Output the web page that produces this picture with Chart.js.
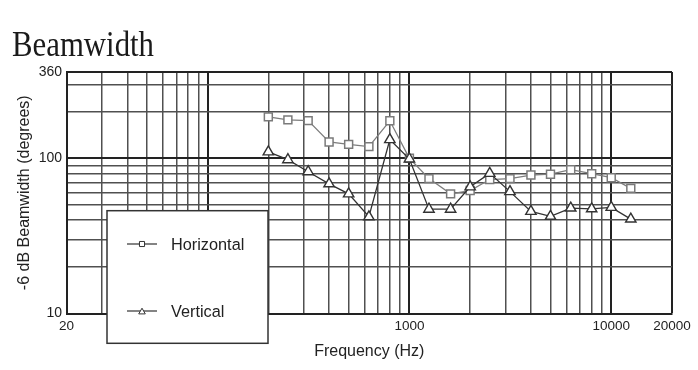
<!DOCTYPE html>
<html>
<head>
<meta charset="utf-8">
<script src="https://cdn.jsdelivr.net/npm/chart.js@4/dist/chart.umd.min.js"></script>
<style>
  html, body { margin: 0; padding: 0; background: #fff; }
  #wrap { position: relative; width: 698px; height: 370px; }
  #c { position: absolute; left: 0; top: 0; }
  #title {
    position: absolute; left: 12px; top: 27px;
    font-family: 'Liberation Serif', 'Times New Roman', serif;
    font-size: 35px; line-height: 1; color: #1a1a1a;
    transform: scaleX(0.88); transform-origin: 0 0; white-space: nowrap;
  }
</style>
</head>
<body>
<div id="wrap">
  <canvas id="c" width="698" height="370"></canvas>
  <div id="title">Beamwidth</div>
</div>
<script>
// ---- data ----
const frequencies = [200, 250, 315, 400, 500, 630, 800, 1000, 1250, 1600, 2000, 2500, 3150, 4000, 5000, 6300, 8000, 10000, 12500];
const horizontal  = [185, 177, 175, 127.5, 123, 119, 174.5, 100, 74, 59, 62, 73, 74, 78, 79, 84.5, 79.6, 75, 64];
const vertical    = [110, 98, 82, 68.5, 59, 42, 132, 99, 47, 47, 65.5, 80, 61, 45.5, 42.3, 47.8, 47.3, 48.3, 40.6];
const seriesNames = ['Horizontal', 'Vertical'];

const xGridValues = [20, 30, 40, 50, 60, 70, 80, 90, 100, 200, 300, 400, 500, 600, 700, 800, 900,
                     1000, 2000, 3000, 4000, 5000, 6000, 7000, 8000, 9000, 10000, 20000];
const xTickLabels = [20, 1000, 10000, 20000];
const xMajor      = [100, 1000, 10000, 20000];
const yGridValues = [10, 20, 30, 40, 50, 60, 70, 80, 90, 100, 200, 300, 360];
const yTickLabels = [10, 100, 360];
const yMajor      = [100, 360];

const xTitle = 'Frequency (Hz)';
const yTitle = '-6 dB Beamwidth (degrees)';

Chart.defaults.font.family = "'Liberation Sans', Arial, Helvetica, sans-serif";
Chart.defaults.color = '#222';

const toPoints = (vals) => frequencies.map((f, i) => ({ x: f, y: vals[i] }));

const boxLegend = {
  id: 'boxLegend',
  afterDraw(chart) {
    const ctx = chart.ctx;
    const a = chart.chartArea;
    const bx = a.left + 40.5, by = a.top + 138.7, bw = 161, bh = 132.6;
    ctx.save();
    ctx.fillStyle = '#fff';
    ctx.fillRect(bx, by, bw, bh);
    ctx.strokeStyle = '#333';
    ctx.lineWidth = 1.5;
    ctx.strokeRect(bx, by, bw, bh);
    const rows = [by + 33.3, by + 100.3];
    chart.data.datasets.forEach((ds, i) => {
      const y = rows[i];
      ctx.strokeStyle = '#333';
      ctx.lineWidth = 1.2;
      ctx.beginPath();
      ctx.moveTo(bx + 20, y);
      ctx.lineTo(bx + 50, y);
      ctx.stroke();
      ctx.fillStyle = '#fff';
      ctx.strokeStyle = '#333';
      ctx.lineWidth = 1;
      Chart.helpers.drawPoint(ctx, {
        pointStyle: ds.pointStyle, radius: ds.pointStyle === 'rect' ? 3.6 : 3.8,
        rotation: 0, borderWidth: 1
      }, bx + 35, y + (ds.pointStyle === 'triangle' ? 1 : 0));
      ctx.fillStyle = '#222';
      ctx.font = "16.3px 'Liberation Sans', Arial, sans-serif";
      ctx.textBaseline = 'alphabetic';
      ctx.textAlign = 'left';
      ctx.fillText(ds.label, bx + 64, y + 6);
    });
    ctx.restore();
  }
};

new Chart(document.getElementById('c'), {
  type: 'line',
  data: {
    datasets: [
      {
        label: seriesNames[0],
        data: toPoints(horizontal),
        order: 2,
        borderColor: '#7d7d7d', borderWidth: 1.3,
        pointStyle: 'rect', pointRadius: 5.6,
        pointBackgroundColor: '#fff', pointBorderColor: '#7a7a7a', pointBorderWidth: 1.5,
        tension: 0, fill: false
      },
      {
        label: seriesNames[1],
        data: toPoints(vertical),
        order: 1,
        borderColor: '#333', borderWidth: 1.3,
        pointStyle: 'triangle', pointRadius: 6,
        pointBackgroundColor: '#fff', pointBorderColor: '#333', pointBorderWidth: 1.4,
        tension: 0, fill: false
      }
    ]
  },
  options: {
    responsive: false,
    animation: false,
    devicePixelRatio: 1,
    layout: { padding: { left: 0, right: 26, top: 72, bottom: 0 } },
    plugins: { legend: { display: false }, tooltip: { enabled: false }, title: { display: false } },
    scales: {
      x: {
        type: 'logarithmic',
        min: 20, max: 20000,
        afterBuildTicks: (s) => { s.ticks = xGridValues.map(v => ({ value: v })); },
        afterFit: (s) => { s.height = 56.5; },
        ticks: {
          autoSkip: false, maxRotation: 0, padding: 5,
          font: { size: 13.5 }, color: '#222',
          callback: (v) => xTickLabels.includes(v) ? String(v) : ''
        },
        grid: {
          drawTicks: false,
          color: (c) => xMajor.includes(c.tick && c.tick.value) ? '#222' : '#505050',
          lineWidth: (c) => xMajor.includes(c.tick && c.tick.value) ? 2 : 1.5
        },
        border: { display: true, color: '#222', width: 2 },
        title: {
          display: true, text: xTitle, color: '#222',
          font: { size: 16 }, padding: { top: 0, bottom: 9 }
        }
      },
      y: {
        type: 'logarithmic',
        min: 10, max: 360,
        afterBuildTicks: (s) => { s.ticks = yGridValues.map(v => ({ value: v })); },
        afterFit: (s) => { s.width = 66.5; },
        ticks: {
          autoSkip: false, padding: 4.5,
          font: { size: 14 }, color: '#222',
          callback: (v) => yTickLabels.includes(v) ? String(v) : ''
        },
        grid: {
          drawTicks: false,
          color: (c) => yMajor.includes(c.tick && c.tick.value) ? '#222' : '#505050',
          lineWidth: (c) => yMajor.includes(c.tick && c.tick.value) ? 2 : 1.5
        },
        border: { display: true, color: '#222', width: 2 },
        title: {
          display: true, text: yTitle, color: '#222',
          font: { size: 16 }, padding: { top: 15.4, bottom: 0 }
        }
      }
    }
  },
  plugins: [boxLegend]
});
</script>
</body>
</html>
